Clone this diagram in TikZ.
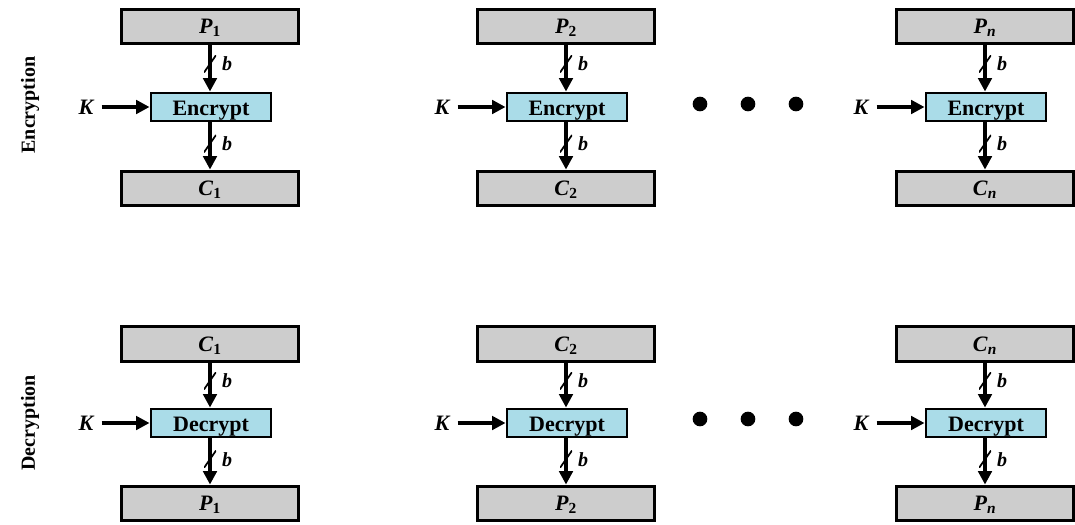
\documentclass[tikz,border=0pt]{standalone}
\usepackage{fontspec}
\setmainfont{Liberation Serif}
\usetikzlibrary{arrows.meta}
\definecolor{boxgray}{RGB}{205,205,205}
\definecolor{boxblue}{RGB}{170,220,232}
\newcommand{\sym}[2]{\textbf{\textit{#1}}\textsubscript{\textbf{#2}}}
\newcommand{\symi}[2]{\textbf{\textit{#1}}\textsubscript{\textbf{\textit{#2}}}}
\tikzset{
  bigbox/.style={draw, line width=2.4pt, fill=boxgray, minimum width=133pt, minimum height=26pt, inner sep=0pt, text height=12pt, text depth=1.5pt, font=\fontsize{16.5}{18}\selectfont},
  cipher/.style={draw, line width=2.2pt, fill=boxblue, minimum width=90pt, minimum height=21pt, inner sep=0pt, text height=13pt, text depth=1pt, font=\bfseries\fontsize{16.5}{18}\selectfont},
  flow/.style={line width=2.8pt, -{Triangle[length=10pt,width=10pt]}},
  slashmark/.style={minimum width=9pt, minimum height=13pt, inner sep=0pt, path picture={\draw[-, line width=1.3pt] (path picture bounding box.south west) -- (path picture bounding box.north east);}},
  blabel/.style={font=\bfseries\itshape\fontsize{15}{17}\selectfont, inner sep=0pt},
  keylabel/.style={font=\bfseries\itshape\fontsize{16.5}{18}\selectfont, inner sep=0pt},
  rowlabel/.style={rotate=90, font=\bfseries\fontsize{15}{17}\selectfont, inner sep=0pt},
  ellipsisdot/.style={circle, fill=black, minimum size=11pt, inner sep=0pt}
}
\begin{document}
\begin{tikzpicture}[x=0.75pt, y=-0.75pt]
\useasboundingbox (0,0) rectangle (1075,525);

\node[rowlabel] (enclabel) at (30,105) {Encryption};
\node[rowlabel] (declabel) at (30,423) {Decryption};

% Encryption row
\foreach \i/\cx/\top/\bot in {1/210/{\sym{P}{1}}/{\sym{C}{1}}, 2/566/{\sym{P}{2}}/{\sym{C}{2}}, 3/985/{\symi{P}{n}}/{\symi{C}{n}}}{
  \node[bigbox] (ep\i) at (\cx,26.5) {\top};
  \node[cipher] (ee\i) at (\cx+1,107) {Encrypt};
  \node[bigbox] (ec\i) at (\cx,188.5) {\bot};
  \node[keylabel] (ek\i) at (\cx-124,107) {K};
  \draw[flow] ([xshift=6pt]ek\i.east) -- (ee\i.west);
  \draw[flow] (ep\i.south) -- node[slashmark, pos=0.4] (es\i) {} (ep\i.south |- ee\i.north);
  \node[blabel] at ([xshift=7pt]es\i.east) {b};
  \draw[flow] (ep\i.south |- ee\i.south) -- node[slashmark, pos=0.45] (et\i) {} (ec\i.north);
  \node[blabel] at ([xshift=7pt]et\i.east) {b};
}

% Decryption row
\foreach \i/\cx/\top/\bot in {1/210/{\sym{C}{1}}/{\sym{P}{1}}, 2/566/{\sym{C}{2}}/{\sym{P}{2}}, 3/985/{\symi{C}{n}}/{\symi{P}{n}}}{
  \node[bigbox] (dc\i) at (\cx,344) {\top};
  \node[cipher] (dd\i) at (\cx+1,423) {Decrypt};
  \node[bigbox] (dp\i) at (\cx,503.5) {\bot};
  \node[keylabel] (dk\i) at (\cx-124,423) {K};
  \draw[flow] ([xshift=6pt]dk\i.east) -- (dd\i.west);
  \draw[flow] (dc\i.south) -- node[slashmark, pos=0.4] (ds\i) {} (dc\i.south |- dd\i.north);
  \node[blabel] at ([xshift=7pt]ds\i.east) {b};
  \draw[flow] (dc\i.south |- dd\i.south) -- node[slashmark, pos=0.45] (dt\i) {} (dp\i.north);
  \node[blabel] at ([xshift=7pt]dt\i.east) {b};
}

\foreach \k/\x in {1/700,2/748,3/796}{
  \node[ellipsisdot] (edot\k) at (\x,104) {};
  \node[ellipsisdot] (ddot\k) at (\x,419) {};
}
\end{tikzpicture}
\end{document}
